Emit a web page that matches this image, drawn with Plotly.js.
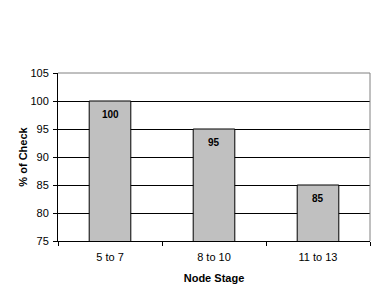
<!DOCTYPE html>
<html>
<head>
<meta charset="utf-8">
<script src="https://cdn.plot.ly/plotly-3.0.1.min.js"></script>
<style>html,body{margin:0;padding:0;background:#fff;}#chart{width:390px;height:303px;}</style>
</head>
<body>
<div id="chart"></div>
<script>
// Relative yield (% of check) by node stage
const stages = ['5 to 7', '8 to 10', '11 to 13'];
const pctOfCheck = [100, 95, 85];

const font = {family: 'Arial, "Liberation Sans", sans-serif', size: 11, color: '#000'};

const trace = {
  type: 'bar',
  x: stages,
  y: pctOfCheck,
  marker: {color: '#c0c0c0', line: {color: '#000', width: 1}},
  hoverinfo: 'skip'
};

// value labels just inside the top of each bar
const labels = stages.map((s, i) => ({
  x: s, y: pctOfCheck[i], xref: 'x', yref: 'y',
  text: '<b>' + pctOfCheck[i] + '</b>',
  showarrow: false, yanchor: 'top', yshift: -6,
  font: {family: font.family, size: 10, color: '#000'}
}));

const layout = {
  width: 390,
  height: 303,
  margin: {l: 58, r: 20, t: 73, b: 62},
  paper_bgcolor: '#fff',
  plot_bgcolor: '#fff',
  font: font,
  showlegend: false,
  bargap: 0.6,
  xaxis: {
    type: 'category',
    range: [-0.5, 2.5],
    showline: true, linecolor: '#000', linewidth: 1,
    ticks: 'outside', tickson: 'boundaries', ticklen: 4, tickcolor: '#000',
    ticklabelstandoff: 6,
    showgrid: false,
    tickfont: font,
    title: {text: '<b>Node Stage</b>', font: font, standoff: 12}
  },
  yaxis: {
    range: [75, 105],
    dtick: 5,
    showline: true, linecolor: '#000', linewidth: 1,
    ticks: 'outside', ticklen: 4, tickcolor: '#000',
    ticklabelstandoff: 2,
    showgrid: true, gridcolor: '#000', gridwidth: 1,
    zeroline: false,
    tickfont: font,
    title: {text: '<b>% of Check</b>', font: font, standoff: 0}
  },
  annotations: labels,
  shapes: [
    {type: 'line', xref: 'paper', yref: 'paper', x0: 0, x1: 1, y0: 1, y1: 1, line: {color: '#808080', width: 1}, layer: 'above'},
    {type: 'line', xref: 'paper', yref: 'paper', x0: 1, x1: 1, y0: 0, y1: 1, line: {color: '#808080', width: 1}, layer: 'above'}
  ]
};

Plotly.newPlot('chart', [trace], layout, {staticPlot: true, displayModeBar: false});
</script>
</body>
</html>
